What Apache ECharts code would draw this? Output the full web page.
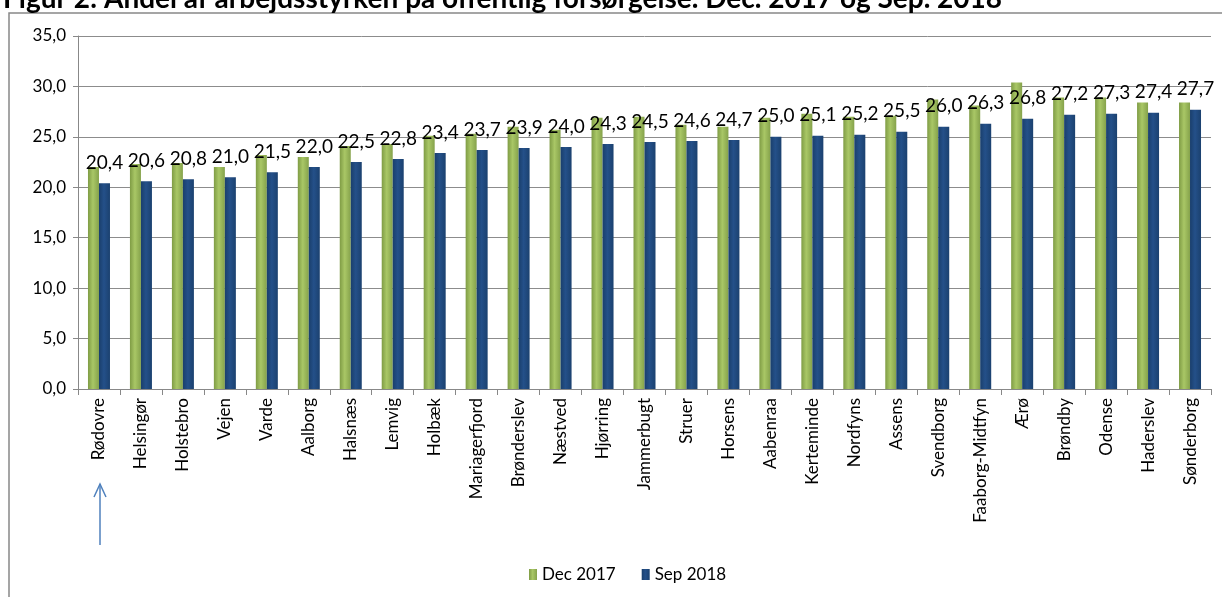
<!DOCTYPE html>
<html>
<head>
<meta charset="utf-8">
<script src="https://cdn.jsdelivr.net/npm/echarts@6/dist/echarts.min.js"></script>
<style>
  html, body { margin: 0; padding: 0; background: #fff; }
  #chart { width: 1222px; height: 597px; }
</style>
</head>
<body>
<div id="chart"></div>
<script>
// kommuner, sorteret efter Sep 2018
var kommuner = ['Rødovre', 'Helsingør', 'Holstebro', 'Vejen', 'Varde', 'Aalborg', 'Halsnæs', 'Lemvig', 'Holbæk',
  'Mariagerfjord', 'Brønderslev', 'Næstved', 'Hjørring', 'Jammerbugt', 'Struer', 'Horsens', 'Aabenraa',
  'Kerteminde', 'Nordfyns', 'Assens', 'Svendborg', 'Faaborg-Midtfyn', 'Ærø', 'Brøndby', 'Odense',
  'Haderslev', 'Sønderborg']
var dec2017 = [22.0, 22.3, 22.4, 22.0, 23.2, 23.0, 24.1, 24.3, 25.1, 25.3, 26.0, 25.7, 26.9, 27.0, 26.2, 26.0,
  26.9, 27.3, 27.0, 27.1, 28.7, 28.1, 30.4, 28.9, 28.9, 28.4, 28.4]
var sep2018 = [20.4, 20.6, 20.8, 21.0, 21.5, 22.0, 22.5, 22.8, 23.4, 23.7, 23.9, 24.0, 24.3, 24.5, 24.6, 24.7,
  25.0, 25.1, 25.2, 25.5, 26.0, 26.3, 26.8, 27.2, 27.3, 27.4, 27.7]
var serieNavne = ['Dec 2017', 'Sep 2018']
var titel = 'Figur 2: Andel af arbejdsstyrken på offentlig forsørgelse. Dec. 2017 og Sep. 2018'

function komma (v) {
  return v.toFixed(1).replace('.', ',')
}

var font = 'Lato, "Noto Sans", sans-serif'

var gronGrad = new echarts.graphic.LinearGradient(0, 0, 1, 0, [
  { offset: 0, color: '#7f9c45' },
  { offset: 0.45, color: '#a9c766' },
  { offset: 1, color: '#85a24b' }
])
var blaaGrad = new echarts.graphic.LinearGradient(0, 0, 1, 0, [
  { offset: 0, color: '#1a3f6c' },
  { offset: 0.45, color: '#245089' },
  { offset: 1, color: '#1b416f' }
])

var dom = echarts.init(document.getElementById('chart'))
dom.setOption({
  animation: false,
  title: {
    text: titel,
    left: -2,
    top: -20,
    textStyle: { fontFamily: font, fontSize: 28, fontWeight: 'bold', color: '#000' }
  },
  grid: { left: 78, right: 11, top: 36, bottom: 208 },
  legend: {
    data: serieNavne,
    bottom: 9,
    left: 524,
    icon: 'rect',
    itemWidth: 8,
    itemHeight: 11,
    itemGap: 26,
    textStyle: { fontFamily: font, fontSize: 17, color: '#000' }
  },
  xAxis: {
    type: 'category',
    data: kommuner,
    axisLine: { lineStyle: { color: '#888', width: 1 } },
    axisTick: { show: true, interval: 0, length: 6, lineStyle: { color: '#888' } },
    axisLabel: {
      interval: 0,
      rotate: 90,
      margin: 9,
      fontFamily: font,
      fontSize: 17,
      color: '#000'
    }
  },
  yAxis: {
    type: 'value',
    min: 0,
    max: 35,
    interval: 5,
    axisLine: { show: true, lineStyle: { color: '#888', width: 1 } },
    axisTick: { show: true, length: 5, lineStyle: { color: '#888' } },
    splitLine: { lineStyle: { color: '#8c8c8c', width: 1 } },
    axisLabel: {
      formatter: komma,
      margin: 12,
      fontFamily: font,
      fontSize: 17,
      color: '#000'
    }
  },
  series: [
    {
      name: serieNavne[0],
      type: 'bar',
      data: dec2017,
      barWidth: 11,
      barGap: '0%',
      itemStyle: { color: gronGrad }
    },
    {
      name: serieNavne[1],
      type: 'bar',
      data: sep2018,
      barWidth: 11,
      itemStyle: { color: blaaGrad },
      label: {
        show: true,
        position: 'top',
        distance: 11,
        formatter: function (p) { return komma(p.value) },
        fontFamily: font,
        fontSize: 19,
        color: '#000'
      }
    }
  ],
  graphic: [
    {
      type: 'rect',
      shape: { x: 9, y: 13, width: 1400, height: 800 },
      style: { fill: null, stroke: '#888', lineWidth: 1.5 },
      silent: true
    },
    {
      type: 'line',
      shape: { x1: 100, y1: 545, x2: 100, y2: 484 },
      style: { stroke: '#4f81bd', lineWidth: 1.5 }
    },
    {
      type: 'polyline',
      shape: { points: [[94, 497], [100, 484], [106, 497]] },
      style: { stroke: '#4f81bd', lineWidth: 1.5, fill: null }
    }
  ]
})
</script>
</body>
</html>
